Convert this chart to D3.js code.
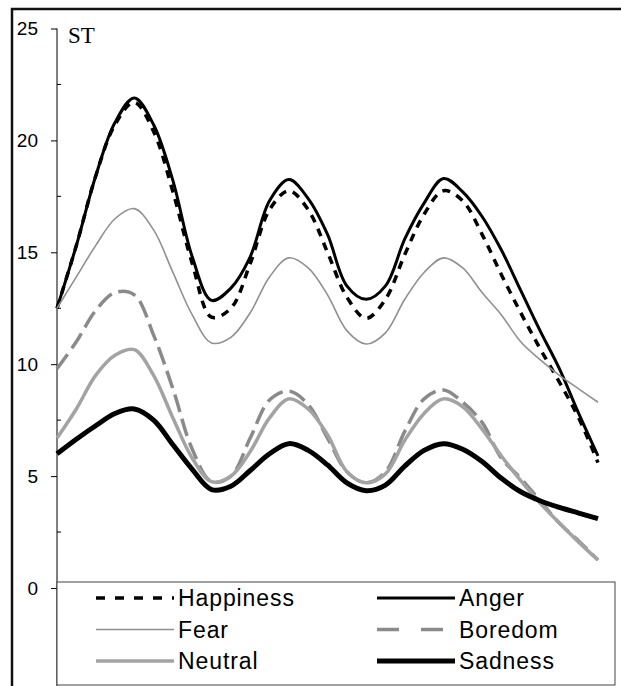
<!DOCTYPE html>
<html>
<head>
<meta charset="utf-8">
<script src="https://cdn.jsdelivr.net/npm/d3@7/dist/d3.min.js"></script>
<style>
  body { margin: 0; background: #fff; }
  .tick-label { font-family: "Liberation Sans", Arial, sans-serif; font-size: 19px; fill: #000; }
  .legend-text { font-family: "Liberation Sans", Arial, sans-serif; font-size: 23px; letter-spacing: 0.9px; fill: #000; }
  .unit { font-family: "Liberation Serif", "Times New Roman", serif; font-size: 23px; fill: #000; }
</style>
</head>
<body>
<div id="chart"></div>
<script>
var svgWidth = 621;
var svgHeight = 686;

// time frames along the utterance (categories)
var frames = [1, 2, 3, 4, 5, 6, 7, 8, 9, 10, 11, 12, 13, 14, 15,
  16, 17, 18, 19, 20, 21, 22, 23, 24, 25, 26, 27, 28, 29];

// pitch values in semitones
var happiness = [12.5, 15.3, 18.4, 20.7, 21.7, 20.4, 17.7, 14.5, 12.1, 12.5, 14.5, 16.9, 17.75, 16.9, 15.0,
  13.0, 12.05, 12.9, 14.9, 16.7, 17.75, 17.3, 15.8, 14.0, 12.3, 10.7, 9.2, 7.6, 5.6];
var anger = [12.5, 15.3, 18.4, 20.8, 21.9, 20.7, 18.2, 14.8, 12.85, 13.4, 14.8, 17.3, 18.25, 17.4, 15.8,
  13.5, 12.9, 13.5, 15.6, 17.2, 18.3, 17.7, 16.6, 15.1, 13.3, 11.5, 9.8, 7.8, 5.9];
var fear = [12.5, 13.9, 15.3, 16.5, 16.95, 16.0, 14.1, 12.2, 10.95, 11.2, 12.3, 13.9, 14.75, 14.3, 13.1,
  11.5, 10.9, 11.4, 12.9, 14.1, 14.75, 14.3, 13.2, 12.2, 11.0, 10.2, 9.5, 8.9, 8.3];
var boredom = [9.8, 11.0, 12.4, 13.2, 13.1, 11.3, 8.9, 6.2, 4.75, 5.0, 6.7, 8.4, 8.8, 8.2, 6.7,
  5.2, 4.7, 5.2, 7.0, 8.45, 8.85, 8.3, 7.4, 5.8, 4.9, 3.9, 2.9, 2.1, 1.25];
var neutral = [6.7, 8.0, 9.5, 10.4, 10.65, 9.5, 7.6, 5.8, 4.75, 5.0, 6.1, 7.6, 8.45, 8.0, 6.85,
  5.2, 4.7, 5.1, 6.6, 7.8, 8.45, 8.1, 7.1, 5.9, 4.8, 3.8, 2.9, 2.05, 1.25];
var sadness = [6.0, 6.65, 7.25, 7.8, 8.0, 7.5, 6.4, 5.3, 4.4, 4.55, 5.25, 6.0, 6.45, 6.15, 5.5,
  4.7, 4.35, 4.6, 5.45, 6.15, 6.45, 6.2, 5.65, 4.9, 4.3, 3.9, 3.6, 3.35, 3.1];

var yTicks = [0, 5, 10, 15, 20, 25];
var yMinorTicks = [2.5, 7.5, 12.5, 17.5, 22.5];

var series = [
  { name: "Happiness", values: happiness, color: "#000", width: 3.5, dash: "8,7" },
  { name: "Anger", values: anger, color: "#000", width: 3, dash: null },
  { name: "Fear", values: fear, color: "#909090", width: 1.6, dash: null },
  { name: "Boredom", values: boredom, color: "#8a8a8a", width: 3.5, dash: "18,7" },
  { name: "Neutral", values: neutral, color: "#a3a3a3", width: 3.5, dash: null },
  { name: "Sadness", values: sadness, color: "#000", width: 5, dash: null }
];

var svg = d3.select("#chart")
  .append("svg")
  .attr("width", svgWidth)
  .attr("height", svgHeight);

// outer frame (only top and left edges are inside the picture)
svg.append("rect")
  .attr("x", 12)
  .attr("y", 9)
  .attr("width", 640)
  .attr("height", 700)
  .attr("fill", "none")
  .attr("stroke", "#111")
  .attr("stroke-width", 2.5);

var xScale = d3.scalePoint()
  .domain(frames)
  .range([57, 598]);

var yScale = d3.scaleLinear()
  .domain([0, 25])
  .range([588, 28.5]);

// y axis: major ticks outside, minor ticks inside
var leftAxis = d3.axisLeft(yScale)
  .tickValues(yTicks)
  .tickSize(6)
  .tickPadding(13)
  .tickFormat(d3.format("d"));

var axisG = svg.append("g")
  .attr("transform", "translate(57,0)")
  .call(leftAxis);
axisG.select(".domain").remove();
axisG.selectAll("line").attr("stroke", "#000");
axisG.selectAll("text").attr("class", "tick-label").attr("font-size", null).attr("font-family", null);

svg.append("line")
  .attr("x1", 57).attr("x2", 57)
  .attr("y1", 28.5).attr("y2", 686)
  .attr("stroke", "#000")
  .attr("stroke-width", 1);

svg.selectAll(".minor")
  .data(yMinorTicks)
  .enter()
  .append("line")
  .attr("class", "minor")
  .attr("x1", 57).attr("x2", 61)
  .attr("y1", d => yScale(d)).attr("y2", d => yScale(d))
  .attr("stroke", "#000");

svg.append("text")
  .attr("class", "unit")
  .attr("x", 68)
  .attr("y", 43)
  .text("ST");

// lines
var line = d3.line()
  .x((d, i) => xScale(frames[i]))
  .y(d => yScale(d))
  .curve(d3.curveCatmullRom.alpha(0.5));

svg.selectAll(".series")
  .data(series)
  .enter()
  .append("path")
  .attr("class", "series")
  .attr("d", d => line(d.values))
  .attr("fill", "none")
  .attr("stroke", d => d.color)
  .attr("stroke-width", d => d.width)
  .attr("stroke-dasharray", d => d.dash)
  .attr("stroke-linejoin", "round");

// legend
svg.append("rect")
  .attr("x", 57)
  .attr("y", 582)
  .attr("width", 558)
  .attr("height", 103)
  .attr("fill", "#fff")
  .attr("stroke", "#444")
  .attr("stroke-width", 1);

var legend = svg.selectAll(".legend")
  .data(series)
  .enter()
  .append("g")
  .attr("class", "legend")
  .attr("transform", (d, i) => `translate(${i % 2 === 0 ? 96 : 377}, ${598 + Math.floor(i / 2) * 31.5})`);

legend.append("line")
  .attr("x1", 0).attr("x2", 78)
  .attr("y1", 0).attr("y2", 0)
  .attr("stroke", d => d.color)
  .attr("stroke-width", d => d.width)
  .attr("stroke-dasharray", d => d.dash ? (d.name === "Boredom" ? "22,22" : "9,10") : null);

legend.append("text")
  .attr("class", "legend-text")
  .attr("x", 82)
  .attr("y", 8)
  .text(d => d.name);
</script>
</body>
</html>
